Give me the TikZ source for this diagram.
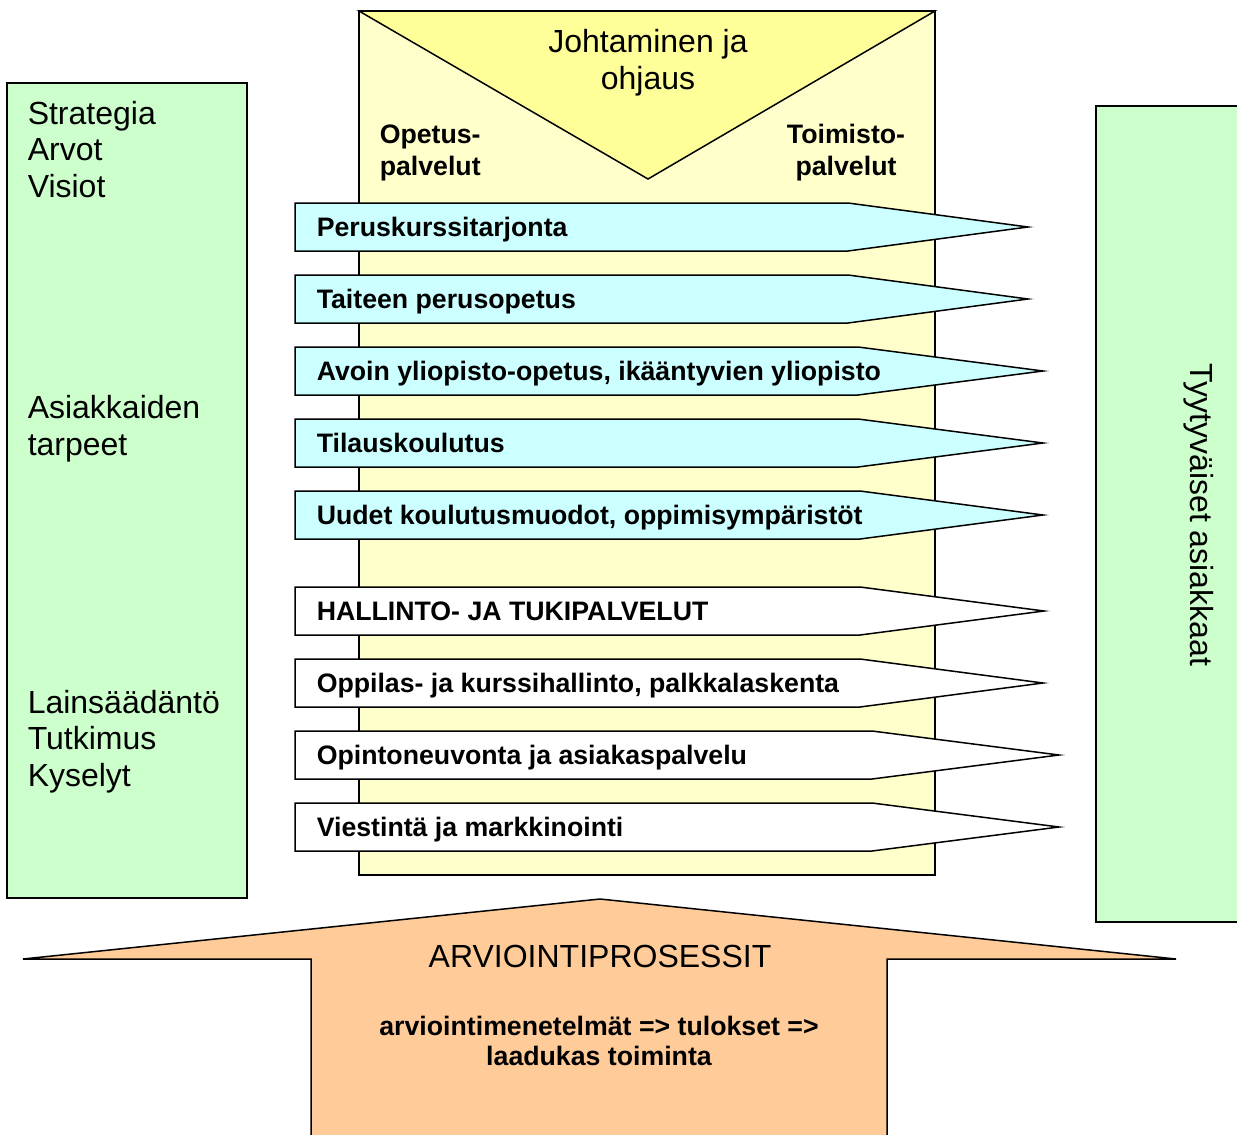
\documentclass[tikz,border=0pt]{standalone}
\usepackage{fontspec}
\setmainfont{Liberation Sans}
\definecolor{lgreen}{HTML}{CCFFCC}
\definecolor{lyellow}{HTML}{FFFFCC}
\definecolor{myellow}{HTML}{FFFF99}
\definecolor{lcyan}{HTML}{CCFFFF}
\definecolor{lorange}{HTML}{FFCC99}
\newcommand{\procrow}[6]{%
  \draw[#5] (295,#2) -- (#3,#2) -- (#4-4,#2+24) -- (#3,#2+48) -- (295,#2+48) -- cycle;
  \node[lbl, anchor=base west] (#1) at (316,#2+33) {#6};}
\begin{document}
\begin{tikzpicture}[x=1pt,y=-1pt,line width=1.5pt,
  cyanrow/.style={draw=black,fill=lcyan},
  whiterow/.style={draw=black,fill=white},
  lbl/.style={inner sep=0pt,font=\fontsize{26.7}{31}\selectfont\bfseries},
  big/.style={inner sep=0pt,font=\fontsize{32}{37}\selectfont}]
\path[use as bounding box] (0,0) rectangle (1237,1135);
\clip (0,0) rectangle (1237,1135);
% side boxes
\draw[fill=lgreen] (7,83) rectangle (247,898);
\draw[fill=lgreen] (1096,106) rectangle (1250,922);
% central box
\draw[fill=lyellow] (359,11) rectangle (935,875);
\draw[fill=myellow] (359,11) -- (935,11) -- (648,179) -- cycle;
\node[big, anchor=base] (joh1) at (648,52) {Johtaminen ja};
\node[big, anchor=base] (joh2) at (648,89) {ohjaus};
\node[lbl, anchor=base west] (op1) at (379,143) {Opetus-};
\node[lbl, anchor=base west] (op2) at (379,175) {palvelut};
\node[lbl, anchor=base] (to1) at (846,143) {Toimisto-};
\node[lbl, anchor=base] (to2) at (846,175) {palvelut};
% rows
\procrow{r1}{203}{848}{1032}{cyanrow}{Peruskurssitarjonta}
\procrow{r2}{275}{848}{1032}{cyanrow}{Taiteen perusopetus}
\procrow{r3}{347}{858}{1047}{cyanrow}{Avoin yliopisto-opetus, ikääntyvien yliopisto}
\procrow{r4}{419}{858}{1047}{cyanrow}{Tilauskoulutus}
\procrow{r5}{491}{860}{1047}{cyanrow}{Uudet koulutusmuodot, oppimisympäristöt}
\procrow{r6}{587}{860}{1048}{whiterow}{HALLINTO- JA TUKIPALVELUT}
\procrow{r7}{659}{860}{1047}{whiterow}{Oppilas- ja kurssihallinto, palkkalaskenta}
\procrow{r8}{731}{872}{1063}{whiterow}{Opintoneuvonta ja asiakaspalvelu}
\procrow{r9}{803}{872}{1063}{whiterow}{Viestintä ja markkinointi}
% left texts
\node[big, anchor=base west] (l1) at (27,124) {Strategia};
\node[big, anchor=base west] (l2) at (27,160) {Arvot};
\node[big, anchor=base west] (l3) at (27,197) {Visiot};
\node[big, anchor=base west] (l4) at (27,418) {Asiakkaiden};
\node[big, anchor=base west] (l5) at (27,455) {tarpeet};
\node[big, anchor=base west] (l6) at (27,713) {Lainsäädäntö};
\node[big, anchor=base west] (l7) at (27,749) {Tutkimus};
\node[big, anchor=base west] (l8) at (27,786) {Kyselyt};
% right text
\node[big, anchor=base, rotate=-90] (tyy) at (1190,515) {Tyytyväiset asiakkaat};
% bottom arrow
\draw[fill=lorange] (600,899) -- (1176,959) -- (887,959) -- (887,1150) -- (311,1150) -- (311,959) -- (23,959) -- cycle;
\node[big, anchor=base] (arv) at (600,967) {ARVIOINTIPROSESSIT};
\node[lbl, anchor=base] (arv2) at (599,1035) {arviointimenetelmät => tulokset =>};
\node[lbl, anchor=base] (arv3) at (599,1065) {laadukas toiminta};
\end{tikzpicture}
\end{document}
